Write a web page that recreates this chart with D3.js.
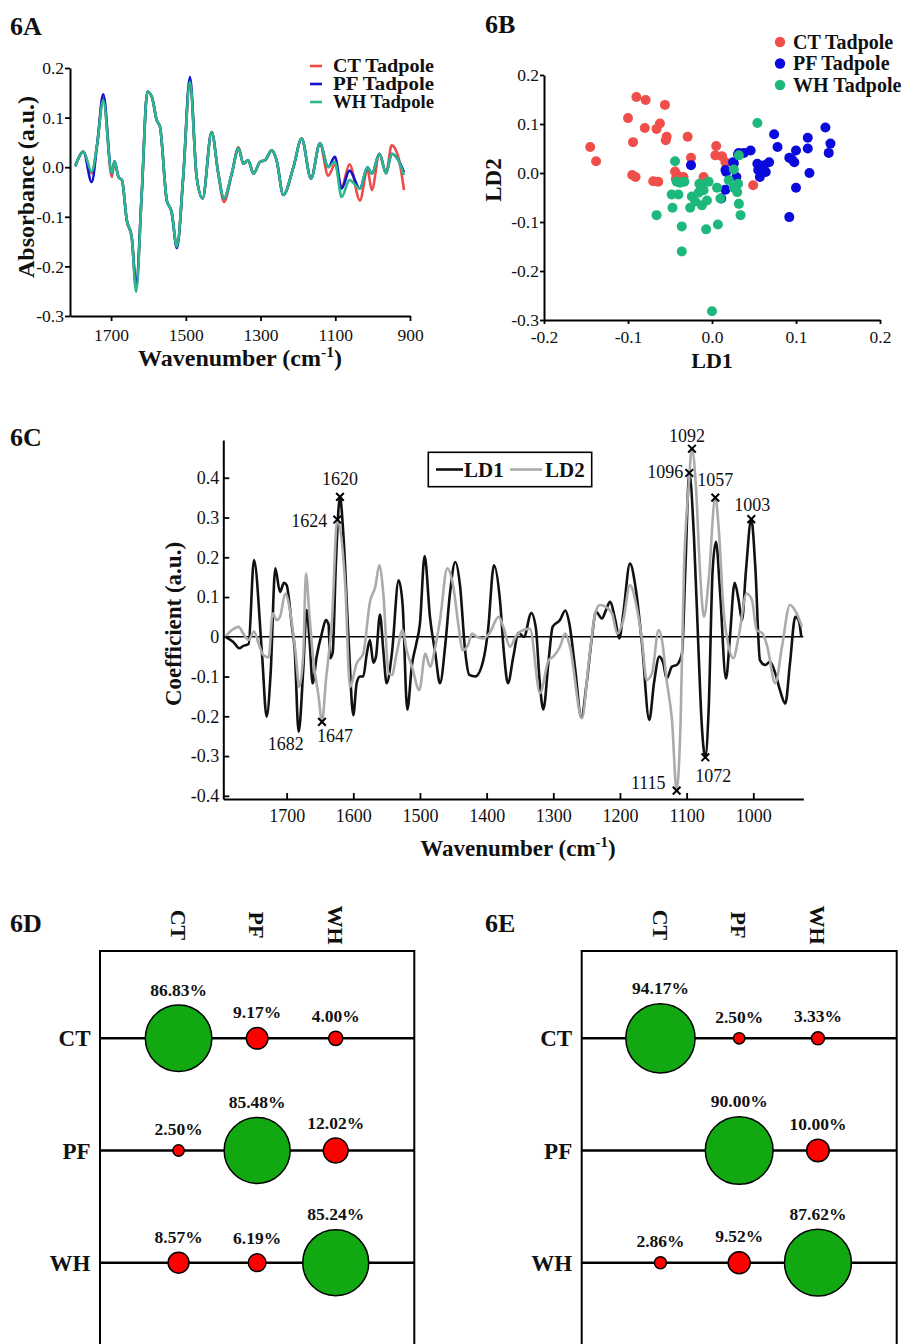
<!DOCTYPE html>
<html>
<head>
<meta charset="utf-8">
<script src="https://cdn.jsdelivr.net/npm/d3@7"></script>
<style>
  body { margin: 0; background: #fff; }
  text { font-family: "Liberation Serif", "DejaVu Serif", serif; }
</style>
</head>
<body>
<svg id="fig" width="906" height="1344"></svg>
<script>
// ---------- Panel 6A: mean second-derivative spectra ----------
const spectraWavenumbers = [1796,1774,1752,1737,1721,1698,1691,1680,1671,1658,1645,1633,1618,1603,1591,1578,1569,1551,1538,1524,1507,1489,1471,1455,1431,1413,1398,1377,1359,1346,1333,1319,1301,1288,1270,1257,1239,1212,1190,1165,1141,1119,1101,1083,1062,1034,1014,1002,982,964,949,931,916];
const absorbanceCT = [0.002,0.031,-0.012,0.048,0.140,-0.020,0.012,-0.020,-0.026,-0.107,-0.140,-0.245,-0.053,0.152,0.142,0.095,0.081,-0.067,-0.090,-0.160,-0.020,0.172,-0.020,-0.063,0.071,-0.013,-0.070,-0.013,0.040,0.007,0.014,-0.013,0.011,0.014,0.034,0.014,-0.056,0.000,0.058,-0.023,0.048,-0.017,0.005,-0.040,0.006,-0.067,-0.005,-0.046,0.027,-0.012,0.044,0.020,-0.046];
const absorbancePF = [0.002,0.031,-0.030,0.048,0.147,-0.012,0.012,-0.020,-0.026,-0.107,-0.140,-0.235,-0.053,0.152,0.142,0.095,0.081,-0.067,-0.090,-0.163,-0.020,0.182,-0.020,-0.063,0.071,-0.013,-0.063,-0.013,0.038,0.007,0.014,-0.013,0.011,0.014,0.034,0.014,-0.056,0.000,0.058,-0.023,0.048,0.000,0.021,-0.043,-0.007,-0.043,0.000,-0.013,0.027,-0.012,0.027,0.014,-0.010];
const absorbanceWH = [0.002,0.031,-0.009,0.048,0.135,-0.012,0.012,-0.020,-0.026,-0.107,-0.140,-0.251,-0.053,0.152,0.142,0.095,0.081,-0.067,-0.090,-0.160,-0.020,0.172,-0.020,-0.063,0.071,-0.013,-0.063,-0.013,0.038,0.007,0.014,-0.013,0.011,0.014,0.034,0.014,-0.056,0.000,0.058,-0.023,0.048,0.000,0.011,-0.060,-0.026,-0.043,0.000,-0.013,0.027,-0.012,0.027,0.014,-0.016];
const spectraTicksX = [1700, 1500, 1300, 1100, 900];
const spectraTicksY = [-0.3, -0.2, -0.1, 0.0, 0.1, 0.2];
const groupNames = ["CT Tadpole", "PF Tadpole", "WH Tadpole"];

// ---------- Panel 6B: LDA scores ----------
const scoresCT = [[-0.145,0.053],[-0.138,0.024],[-0.100,0.112],[-0.094,0.063],[-0.090,0.155],[-0.079,0.149],[-0.080,0.092],[-0.095,-0.004],[-0.091,-0.008],[-0.066,0.090],[-0.062,0.101],[-0.056,0.139],[-0.054,0.074],[-0.055,0.067],[-0.070,-0.017],[-0.064,-0.018],[-0.029,0.074],[-0.025,0.031],[-0.044,0.003],[-0.041,-0.005],[-0.034,-0.008],[-0.010,-0.008],[0.005,0.055],[0.004,0.036],[0.012,0.034],[0.016,0.022],[0.049,-0.025],[-0.043,-0.012]];
const scoresPF = [[0.135,0.093],[0.141,0.060],[0.139,0.041],[0.114,0.072],[0.114,0.050],[0.116,0.000],[0.100,0.046],[0.092,0.031],[0.098,0.022],[0.100,-0.030],[0.092,-0.090],[0.074,0.079],[0.078,0.053],[0.068,0.022],[0.062,0.016],[0.054,0.019],[0.055,0.006],[0.057,-0.008],[0.064,0.002],[0.046,0.046],[0.038,0.041],[0.032,0.041],[0.026,0.020],[0.016,0.006],[0.029,-0.008],[0.016,-0.034],[0.011,-0.052],[-0.025,0.016],[0.025,0.022],[0.017,0.002],[0.031,0.038],[0.060,0.013],[0.095,0.028]];
const scoresWH = [[-0.044,0.024],[-0.042,-0.018],[-0.033,-0.018],[-0.048,-0.044],[-0.040,-0.044],[-0.047,-0.071],[-0.066,-0.086],[-0.024,-0.048],[-0.026,-0.071],[-0.036,-0.109],[-0.036,-0.160],[-0.015,-0.022],[-0.010,-0.035],[-0.004,-0.018],[-0.012,-0.066],[-0.006,-0.056],[-0.007,-0.115],[0.007,-0.105],[0.006,-0.030],[0.010,-0.052],[0.000,-0.282],[0.026,0.007],[0.054,0.102],[0.032,0.036],[0.020,-0.015],[0.031,-0.022],[0.030,-0.039],[0.032,-0.063],[0.034,-0.086],[-0.038,-0.020],[-0.016,-0.040],[-0.012,-0.025],[0.026,-0.030],[-0.020,-0.058]];
const scoreTicksX = [-0.2, -0.1, 0.0, 0.1, 0.2];
const scoreTicksY = [-0.3, -0.2, -0.1, 0.0, 0.1, 0.2];

// ---------- Panel 6C: LD coefficient loadings ----------
const ld1Coefficients = [[1790,-0.002],[1780,-0.013],[1771,-0.029],[1765,-0.023],[1757,-0.018],[1749,0.193],[1737,-0.042],[1730,-0.201],[1724,-0.092],[1717,0.172],[1710,0.113],[1704,0.136],[1700,0.130],[1692,0.025],[1688,-0.030],[1682,-0.239],[1675,-0.080],[1670,0.067],[1665,-0.025],[1661,-0.117],[1655,-0.050],[1647,0.010],[1641,0.042],[1637,0.030],[1635,-0.054],[1631,-0.040],[1626,0.190],[1620,0.352],[1615,0.260],[1607,-0.010],[1600,-0.197],[1595,-0.117],[1590,-0.100],[1585,-0.100],[1580,-0.045],[1575,-0.008],[1570,-0.065],[1566,-0.050],[1560,0.056],[1555,-0.034],[1550,-0.117],[1542,-0.040],[1532,0.142],[1526,0.080],[1519,-0.183],[1512,-0.070],[1506,-0.021],[1500,0.034],[1493,0.203],[1485,0.050],[1477,-0.042],[1470,-0.117],[1462,-0.020],[1455,0.109],[1447,0.188],[1440,0.130],[1432,-0.040],[1426,-0.096],[1417,-0.100],[1405,-0.059],[1398,0.015],[1389,0.180],[1380,0.092],[1374,-0.042],[1368,-0.117],[1360,-0.050],[1352,0.010],[1344,0.000],[1333,0.060],[1326,0.020],[1321,-0.100],[1315,-0.183],[1307,-0.059],[1301,0.025],[1290,0.042],[1282,0.066],[1276,0.034],[1267,-0.084],[1258,-0.203],[1250,-0.117],[1242,0.000],[1236,0.063],[1227,0.046],[1221,0.067],[1215,0.088],[1207,0.042],[1201,-0.004],[1195,0.059],[1185,0.184],[1176,0.117],[1167,-0.017],[1156,-0.209],[1149,-0.117],[1141,-0.050],[1135,-0.067],[1130,-0.105],[1122,-0.075],[1115,-0.071],[1107,-0.042],[1102,0.167],[1096,0.412],[1089,0.251],[1082,-0.042],[1078,-0.200],[1072,-0.303],[1067,-0.184],[1061,0.167],[1056,0.239],[1050,0.117],[1041,-0.105],[1035,0.000],[1028,0.136],[1022,0.092],[1017,0.042],[1011,0.167],[1003,0.296],[997,0.176],[990,-0.059],[982,-0.071],[975,-0.063],[967,-0.092],[960,-0.134],[952,-0.168],[945,-0.067],[937,0.050],[932,0.042],[928,0.000]];
const ld2Coefficients = [[1792,0.000],[1782,0.017],[1772,0.025],[1765,0.008],[1757,-0.008],[1749,0.013],[1742,-0.017],[1735,-0.046],[1727,-0.052],[1721,0.059],[1715,0.042],[1710,0.050],[1702,0.109],[1695,0.067],[1687,-0.034],[1681,-0.126],[1675,-0.042],[1671,0.159],[1666,0.059],[1660,-0.059],[1652,-0.151],[1647,-0.214],[1641,-0.109],[1632,0.042],[1624,0.295],[1612,0.126],[1605,-0.126],[1595,-0.067],[1585,-0.042],[1575,0.088],[1567,0.126],[1561,0.180],[1555,0.109],[1547,-0.092],[1542,-0.096],[1535,-0.042],[1526,0.017],[1520,-0.034],[1512,-0.075],[1501,-0.134],[1492,-0.042],[1485,-0.075],[1477,-0.025],[1470,0.042],[1459,0.172],[1450,0.126],[1442,0.025],[1436,-0.034],[1428,-0.021],[1422,0.008],[1415,0.000],[1405,-0.004],[1396,0.008],[1382,0.050],[1375,0.025],[1365,-0.025],[1355,0.004],[1345,0.017],[1335,0.020],[1320,-0.142],[1307,-0.059],[1300,-0.050],[1290,-0.025],[1282,0.008],[1275,-0.025],[1257,-0.205],[1247,-0.067],[1237,0.059],[1230,0.080],[1221,0.075],[1212,0.059],[1204,0.008],[1195,0.042],[1185,0.130],[1175,0.075],[1167,-0.008],[1160,-0.109],[1152,-0.092],[1142,0.017],[1137,-0.008],[1130,-0.109],[1122,-0.209],[1115,-0.387],[1109,-0.209],[1104,0.167],[1097,0.377],[1092,0.473],[1086,0.377],[1080,0.167],[1074,0.050],[1067,0.142],[1057,0.350],[1051,0.251],[1045,0.075],[1037,-0.025],[1030,-0.054],[1022,0.000],[1010,0.109],[1002,0.092],[995,0.017],[986,0.008],[979,-0.025],[967,-0.117],[957,-0.025],[945,0.080],[935,0.059],[927,0.025]];
// marked bands: [wavenumber, coefficient, loading]
const markedBands = [[1620,0.352,"LD1"],[1624,0.295,"LD2"],[1647,-0.214,"LD2"],[1092,0.473,"LD2"],[1096,0.412,"LD1"],[1057,0.350,"LD2"],[1003,0.296,"LD1"],[1115,-0.387,"LD2"],[1072,-0.303,"LD1"]];
const unmarkedBands = [[1682,-0.239]];
const loadingTicksX = [1700, 1600, 1500, 1400, 1300, 1200, 1100, 1000];
const loadingTicksY = [-0.4, -0.3, -0.2, -0.1, 0, 0.1, 0.2, 0.3, 0.4];

// ---------- Panels 6D / 6E: classification rates (%) ----------
const classes = ["CT", "PF", "WH"];
const ratesD = [[86.83, 9.17, 4.00], [2.50, 85.48, 12.02], [8.57, 6.19, 85.24]];
const ratesE = [[94.17, 2.50, 3.33], [0, 90.00, 10.00], [2.86, 9.52, 87.62]];

// ================= drawing =================
const svg = d3.select("#fig");
svg.append("rect").attr("width", 906).attr("height", 1344).attr("fill", "#fff");
const SERIF = "Liberation Serif, DejaVu Serif, serif";
const groupColors = ["#ee4b47", "#1212cc", "#2ab98a"];
const dotColors = ["#f04e4a", "#0a0adc", "#1db87b"];
const plain = d => String(d);

function styleAxis(g, fs) {
  g.attr("font-family", SERIF);
  g.select(".domain").attr("stroke", "#000").attr("stroke-width", 2);
  g.selectAll(".tick line").attr("stroke", "#000").attr("stroke-width", 1.8);
  g.selectAll(".tick text").attr("font-family", SERIF).attr("font-size", fs).attr("fill", "#111");
}
function panelLabel(t, x, y) {
  svg.append("text").attr("x", x).attr("y", y).attr("font-size", 26)
    .attr("font-weight", "bold").attr("fill", "#111").text(t);
}
function wavenumberTitle(x, y, fs) {
  const t = svg.append("text").attr("x", x).attr("y", y).attr("text-anchor", "middle")
    .attr("font-size", fs).attr("font-weight", "bold").attr("fill", "#111");
  t.append("tspan").text("Wavenumber (cm");
  t.append("tspan").attr("dy", -9).attr("font-size", fs * 0.65).text("-1");
  t.append("tspan").attr("dy", 9).text(")");
}
function rotatedTitle(txt, x, y, fs) {
  svg.append("text").attr("transform", `translate(${x},${y}) rotate(-90)`)
    .attr("text-anchor", "middle").attr("font-size", fs).attr("font-weight", "bold")
    .attr("fill", "#111").text(txt);
}

// ---- 6A ----
panelLabel("6A", 10, 35);
const xA = d3.scaleLinear().domain([1810, 900]).range([70, 410]);
const yA = d3.scaleLinear().domain([-0.3, 0.2]).range([316, 68]);
const lineA = d3.line().x((d, i) => xA(spectraWavenumbers[i])).y(d => yA(d)).curve(d3.curveMonotoneX);
[absorbanceCT, absorbancePF, absorbanceWH].forEach((vals, k) => {
  svg.append("path").attr("d", lineA(vals)).attr("fill", "none")
    .attr("stroke", groupColors[k]).attr("stroke-width", 2.6).attr("stroke-linejoin", "round");
});
svg.append("g").attr("transform", "translate(0,316)")
  .call(d3.axisBottom(xA).tickValues(spectraTicksX).tickFormat(plain).tickSizeInner(5).tickSizeOuter(0).tickPadding(8))
  .call(g => styleAxis(g, 17.5));
svg.append("g").attr("transform", "translate(70,0)")
  .call(d3.axisLeft(yA).tickValues(spectraTicksY).tickFormat(d => d.toFixed(1)).tickSizeInner(5).tickSizeOuter(0).tickPadding(1))
  .call(g => styleAxis(g, 17.5));
wavenumberTitle(240, 366, 24);
rotatedTitle("Absorbance (a.u.)", 34, 187, 24);
groupNames.forEach((n, k) => {
  const y = 66 + k * 18;
  svg.append("line").attr("x1", 310).attr("x2", 322).attr("y1", y).attr("y2", y)
    .attr("stroke", groupColors[k]).attr("stroke-width", 2.6);
  svg.append("text").attr("x", 333).attr("y", y + 6).attr("font-size", 18.5)
    .attr("font-weight", "bold").attr("fill", "#111").attr("textLength", 101)
    .attr("lengthAdjust", "spacingAndGlyphs").text(n);
});

// ---- 6B ----
panelLabel("6B", 485, 33);
const xB = d3.scaleLinear().domain([-0.2, 0.2]).range([544, 880]);
const yB = d3.scaleLinear().domain([-0.3, 0.2]).range([320, 75]);
[scoresCT, scoresPF, scoresWH].forEach((pts, k) => {
  svg.append("g").selectAll("circle").data(pts).join("circle")
    .attr("cx", d => xB(d[0])).attr("cy", d => yB(d[1])).attr("r", 5)
    .attr("fill", dotColors[k]);
});
svg.append("g").attr("transform", "translate(0,320)")
  .call(d3.axisBottom(xB).tickValues(scoreTicksX).tickFormat(d => d.toFixed(1)).tickSizeInner(4).tickSizeOuter(0).tickPadding(7))
  .call(g => styleAxis(g, 17.5));
svg.append("g").attr("transform", "translate(544,0)")
  .call(d3.axisLeft(yB).tickValues(scoreTicksY).tickFormat(d => d.toFixed(1)).tickSizeInner(4).tickSizeOuter(0).tickPadding(1))
  .call(g => styleAxis(g, 17.5));
svg.append("text").attr("x", 712).attr("y", 368).attr("text-anchor", "middle")
  .attr("font-size", 22).attr("font-weight", "bold").attr("fill", "#111").text("LD1");
rotatedTitle("LD2", 501, 180, 23);
groupNames.forEach((n, k) => {
  const y = 42 + k * 21.5;
  svg.append("circle").attr("cx", 780).attr("cy", y).attr("r", 5.2).attr("fill", dotColors[k]);
  svg.append("text").attr("x", 793).attr("y", y + 6.5).attr("font-size", 20)
    .attr("font-weight", "bold").attr("fill", "#111").text(n);
});

// ---- 6C ----
panelLabel("6C", 10, 446);
const xC = d3.scaleLinear().domain([1795, 925]).range([223.3, 803.3]);
const yC = d3.scaleLinear().domain([-0.408, 0.495]).range([799, 440]);
svg.append("clipPath").attr("id", "clipC").append("rect")
  .attr("x", 223.3).attr("y", 440).attr("width", 580).attr("height", 359);
const lineC = d3.line().x(d => xC(d[0])).y(d => yC(d[1])).curve(d3.curveMonotoneX);
svg.append("line").attr("x1", 223.3).attr("x2", 803.3).attr("y1", yC(0)).attr("y2", yC(0))
  .attr("stroke", "#000").attr("stroke-width", 1.6);
const gC = svg.append("g").attr("clip-path", "url(#clipC)");
gC.append("path").attr("d", lineC(ld1Coefficients)).attr("fill", "none")
  .attr("stroke", "#111").attr("stroke-width", 2.6).attr("stroke-linejoin", "round");
gC.append("path").attr("d", lineC(ld2Coefficients)).attr("fill", "none")
  .attr("stroke", "#ababab").attr("stroke-width", 2.6).attr("stroke-linejoin", "round");
svg.append("g").attr("transform", "translate(0,799)")
  .call(d3.axisBottom(xC).tickValues(loadingTicksX).tickFormat(plain).tickSizeInner(-6).tickSizeOuter(0).tickPadding(10))
  .call(g => styleAxis(g, 18));
svg.append("g").attr("transform", "translate(223.3,0)")
  .call(d3.axisLeft(yC).tickValues(loadingTicksY).tickFormat(d => d === 0 ? "0" : d.toFixed(1)).tickSizeInner(-6).tickSizeOuter(0).tickPadding(4))
  .call(g => styleAxis(g, 18));
wavenumberTitle(518, 856, 23);
rotatedTitle("Coefficient (a.u.)", 181, 624, 23);

// band markers and their wavenumber labels
const markSymbol = d3.symbol().type(d3.symbolTimes || d3.symbolX).size(40);
const bandLabelPlacement = {
  1620: [0, -12, "middle"], 1624: [-10, 7, "end"], 1647: [-5, 20, "start"],
  1092: [-5, -7, "middle"], 1096: [-6, 5, "end"], 1057: [0, -12, "middle"],
  1003: [1, -8, "middle"], 1115: [-11, -2, "end"], 1072: [8, 25, "middle"],
  1682: [-13, 18, "middle"]
};
markedBands.forEach(([w, v]) => {
  svg.append("path").attr("d", markSymbol())
    .attr("transform", `translate(${xC(w)},${yC(v)})`)
    .attr("fill", "none").attr("stroke", "#000").attr("stroke-width", 2);
});
markedBands.concat(unmarkedBands).forEach(([w, v]) => {
  const [dx, dy, anchor] = bandLabelPlacement[w];
  svg.append("text").attr("x", xC(w) + dx).attr("y", yC(v) + dy)
    .attr("text-anchor", anchor).attr("font-size", 18).attr("fill", "#111").text(w);
});
// legend
svg.append("rect").attr("x", 428.3).attr("y", 452.3).attr("width", 163.4).attr("height", 34.4)
  .attr("fill", "#fff").attr("stroke", "#000").attr("stroke-width", 1.6);
svg.append("line").attr("x1", 436).attr("x2", 463).attr("y1", 469.5).attr("y2", 469.5)
  .attr("stroke", "#111").attr("stroke-width", 2.6);
svg.append("text").attr("x", 464).attr("y", 476.5).attr("font-size", 21)
  .attr("font-weight", "bold").attr("fill", "#111").text("LD1");
svg.append("line").attr("x1", 510).attr("x2", 542).attr("y1", 469.5).attr("y2", 469.5)
  .attr("stroke", "#ababab").attr("stroke-width", 2.6);
svg.append("text").attr("x", 545).attr("y", 476.5).attr("font-size", 21)
  .attr("font-weight", "bold").attr("fill", "#111").text("LD2");

// ---- 6D / 6E ----
const rScale = d3.scaleSqrt().domain([0, 100]).range([0, 35.7]);
function drawMatrix(label, x0, x1, rates) {
  panelLabel(label, label === "6D" ? 10 : 485, 932);
  const xs = d3.scalePoint().domain(classes).range([x0, x1]).padding(1);
  const ys = d3.scalePoint().domain(classes).range([1038.3, 1262.7]);
  const g = svg.append("g");
  // frame (open at the bottom)
  g.append("path").attr("d", `M${x0},1350V951H${x1}V1350`).attr("fill", "none")
    .attr("stroke", "#000").attr("stroke-width", 2);
  classes.forEach((c, ri) => {
    const cy = ys(c);
    g.append("line").attr("x1", x0).attr("x2", x1).attr("y1", cy).attr("y2", cy)
      .attr("stroke", "#000").attr("stroke-width", 2.5);
    g.append("text").attr("x", x0 - 9.5).attr("y", cy + 8).attr("text-anchor", "end")
      .attr("font-size", 23).attr("font-weight", "bold").attr("fill", "#111").text(c);
    rates[ri].forEach((p, ci) => {
      if (p <= 0) return;
      const cx = xs(classes[ci]);
      const r = rScale(p);
      g.append("circle").attr("cx", cx).attr("cy", cy).attr("r", r)
        .attr("fill", ri === ci ? "#12a812" : "#ff0000")
        .attr("stroke", "#000").attr("stroke-width", 1.5);
      g.append("text").attr("x", cx).attr("y", cy - r - 9.5).attr("text-anchor", "middle")
        .attr("font-size", 17.5).attr("font-weight", "bold").attr("fill", "#111")
        .text(p.toFixed(2) + "%");
    });
  });
  classes.forEach(c => {
    g.append("text").attr("transform", `translate(${xs(c)},925) rotate(90)`)
      .attr("text-anchor", "middle").attr("dy", "0.35em")
      .attr("font-size", 22).attr("font-weight", "bold").attr("fill", "#111").text(c);
  });
}
drawMatrix("6D", 100, 414.3, ratesD);
drawMatrix("6E", 581.7, 896.7, ratesE);
</script>
</body>
</html>
